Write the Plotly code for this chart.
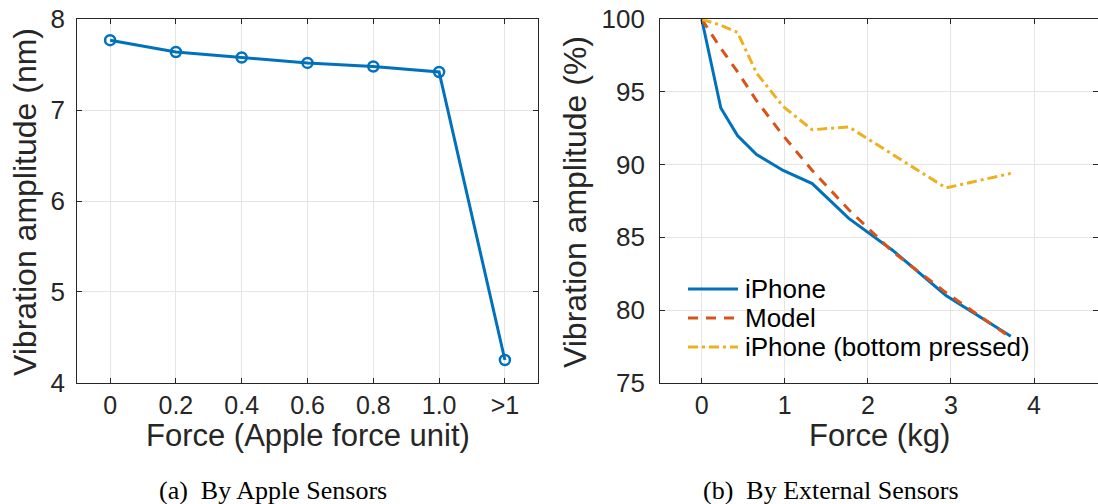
import plotly.graph_objects as go

# ---- (a) amplitude measured by the phone's own sensors ----
apple_force_labels = ["0", "0.2", "0.4", "0.6", "0.8", "1.0", ">1"]
apple_amplitude_nm = [7.77, 7.64, 7.58, 7.52, 7.48, 7.42, 4.25]

# ---- (b) amplitude measured by external sensors ----
force_kg = [0, 0.23, 0.43, 0.66, 0.98, 1.33, 1.77, 2.3, 2.94, 3.72]
iphone_pct = [100, 93.9, 92.0, 90.7, 89.6, 88.7, 86.3, 84.1, 81.0, 78.2]
model_pct = [100, 98.0, 96.4, 94.4, 92.0, 89.6, 86.9, 84.0, 81.2, 78.1]
bottom_pressed_pct = [100, 99.6, 99.1, 96.3, 94.0, 92.4, 92.6, 90.7, 88.4, 89.4]

series_names = ["iPhone", "Model", "iPhone (bottom pressed)"]

BLUE = "#0072BD"
ORANGE = "#D95319"
YELLOW = "#EDB120"
AXIS = "#262626"
GRID = "#e5e5e5"
FONT = "Liberation Sans, Arial, sans-serif"
SERIF = "Liberation Serif, Times New Roman, serif"

W, H = 1098, 504
left_box = (77.2, 537.8)
right_box = (660.2, 1098)
top_px, bottom_px = 19.3, 382.7

series_styles = [
    dict(color=BLUE, width=3, dash="solid"),
    dict(color=ORANGE, width=3, dash="10px,8px"),
    dict(color=YELLOW, width=3, dash="10px,4px,3px,4px"),
]


def xdom(box):
    return [box[0] / W, min(box[1] / W, 1.0)]


def px(xp, yp):
    return xp / W, 1 - yp / H


ydom = [1 - bottom_px / H, 1 - top_px / H]

fig = go.Figure()

fig.add_trace(go.Scatter(
    x=apple_force_labels, y=apple_amplitude_nm, mode="lines+markers",
    line=dict(color=BLUE, width=3),
    marker=dict(symbol="circle-open", size=10, color=BLUE, line=dict(width=2.5, color=BLUE)),
    xaxis="x", yaxis="y", showlegend=False,
))

for name, ys, style in zip(series_names, [iphone_pct, model_pct, bottom_pressed_pct], series_styles):
    fig.add_trace(go.Scatter(
        x=force_kg, y=ys, mode="lines", name=name, line=style,
        xaxis="x2", yaxis="y2", showlegend=False,
    ))

axis_common = dict(
    showline=True, linecolor=AXIS, linewidth=1.2, mirror="ticks",
    ticks="inside", ticklen=5, tickcolor=AXIS, tickwidth=1,
    showgrid=True, gridcolor=GRID, gridwidth=1, zeroline=False,
    automargin=False,
)
tick_font = dict(family=FONT, size=26, color=AXIS)
xtick_font = dict(family=FONT, size=25, color=AXIS)

fig.update_layout(
    width=W, height=H,
    margin=dict(l=0, r=0, t=0, b=0, pad=0),
    paper_bgcolor="white", plot_bgcolor="white",
    showlegend=False,
    xaxis=dict(domain=xdom(left_box), type="category", range=[-0.5, 6.5],
               anchor="y", ticklabelstandoff=0, tickfont=xtick_font, **axis_common),
    yaxis=dict(domain=ydom, range=[4, 8], dtick=1, anchor="x",
               ticklabelstandoff=6, tickfont=tick_font, **axis_common),
    xaxis2=dict(domain=xdom(right_box), range=[-0.5, 4.77], tickvals=[0, 1, 2, 3, 4],
                anchor="y2", ticklabelstandoff=0, tickfont=xtick_font, **axis_common),
    yaxis2=dict(domain=ydom, range=[75, 100], dtick=5, anchor="x2",
                ticklabelstandoff=9, tickfont=tick_font, **axis_common),
)

# Legend for panel (b): sample line + label per series
legend_rows_px = [289, 318, 347]
shapes = []
annotations = []
for name, style, row in zip(series_names, series_styles, legend_rows_px):
    x0, y0 = px(688, row)
    x1, _ = px(738, row)
    shapes.append(dict(type="line", xref="paper", yref="paper", x0=x0, x1=x1, y0=y0, y1=y0,
                       line=style))
    tx, ty = px(743, row)
    annotations.append(dict(text=name, x=tx, y=ty, xanchor="left", yanchor="middle",
                            font=dict(family=FONT, size=26, color="black")))

title_font = dict(family=FONT, size=31, color=AXIS)
ytitle_font = dict(family=FONT, size=32, color=AXIS)
annotations += [
    dict(text="Vibration amplitude (nm)", x=px(25, 0)[0], y=px(0, 202)[1], textangle=-90,
         font=ytitle_font),
    dict(text="Force (Apple force unit)", x=px(307.5, 0)[0], y=px(0, 435)[1],
         font=title_font),
    dict(text="Vibration amplitude (%)", x=px(575, 0)[0], y=px(0, 202)[1], textangle=-90,
         font=ytitle_font),
    dict(text="Force (kg)", x=px(879, 0)[0], y=px(0, 435)[1],
         font=title_font),
    dict(text="(a)\u2002By Apple Sensors", x=px(273, 0)[0], y=px(0, 490)[1],
         font=dict(family=SERIF, size=26, color="black")),
    dict(text="(b)\u2002By External Sensors", x=px(831, 0)[0], y=px(0, 490)[1],
         font=dict(family=SERIF, size=26, color="black")),
]
for a in annotations:
    a.update(xref="paper", yref="paper", showarrow=False)
    a.setdefault("xanchor", "center")
    a.setdefault("yanchor", "middle")
fig.update_layout(annotations=annotations, shapes=shapes)

fig.write_html("out.html")
